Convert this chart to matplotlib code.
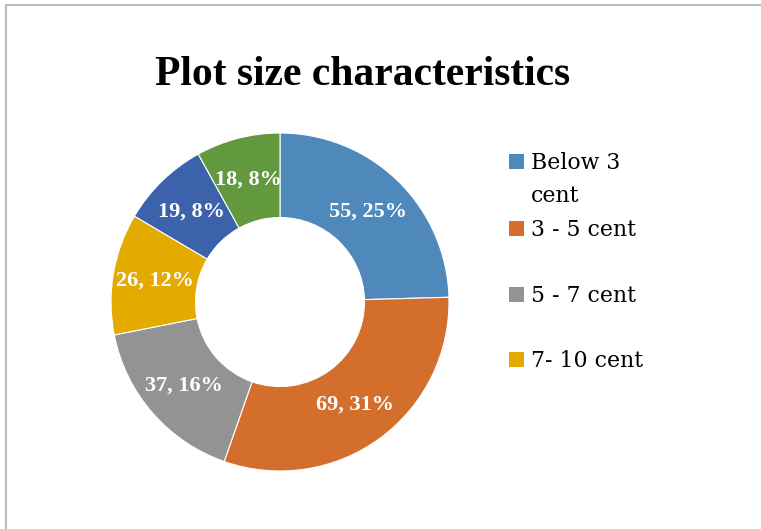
import numpy as np
import matplotlib.pyplot as plt
from matplotlib.lines import Line2D
from matplotlib.patches import Rectangle

# plot size classes (only the first four are listed in the legend)
legend_labels = ['Below 3\ncent', '3 - 5 cent', '5 - 7 cent', '7- 10 cent']
counts = [55, 69, 37, 26, 19, 18]
percents = [25, 31, 16, 12, 8, 8]
colors = ['#4F88BB', '#D36E2C', '#939393', '#E3AA00', '#3D62AC', '#62993E']

W, H = 761, 529
fig = plt.figure(figsize=(W / 100, H / 100), dpi=100)

# donut
cx, cy, r = 280, 302, 169
ax = fig.add_axes([(cx - r) / W, (H - cy - r) / H, 2 * r / W, 2 * r / H])
wedges, _ = ax.pie(counts, colors=colors, startangle=90, counterclock=False,
                   radius=1, wedgeprops=dict(width=0.5, edgecolor='white', linewidth=0.8))
ax.set_xlim(-1, 1)
ax.set_ylim(-1, 1)
ax.set_aspect('equal')
ax.axis('off')

# value labels in the middle of the ring
total = sum(counts)
start = 90.0
for c, p in zip(counts, percents):
    span = c / total * 360
    mid = np.deg2rad(start - span / 2)
    start -= span
    ax.text(0.75 * np.cos(mid), 0.75 * np.sin(mid), f'{c}, {p}%',
            ha='center', va='center', color='white', fontsize=16,
            fontweight='bold', family='Liberation Serif')

fig.text(363 / W, 1 - 85 / H, 'Plot size characteristics', ha='center', va='baseline',
         fontsize=30, fontweight='bold', family='Liberation Serif')

# legend, one baseline per text line
baselines = [169, 236, 302, 367]
for lab, col, y in zip(legend_labels, colors, baselines):
    fig.patches.append(Rectangle((509 / W, 1 - y / H), 15 / W, 15 / H,
                                 transform=fig.transFigure, facecolor=col, edgecolor='none'))
    for i, line in enumerate(lab.split('\n')):
        fig.text(531 / W, 1 - (y + 33 * i) / H, line, ha='left', va='baseline',
                 fontsize=15.8, family='DejaVu Serif')

# chart frame
fig.add_artist(Line2D([6 / W, 6 / W, 1], [0, 1 - 5 / H, 1 - 5 / H],
                      transform=fig.transFigure, color='#BBBBBB', linewidth=1.5))

fig.savefig('out.png', dpi=100)
